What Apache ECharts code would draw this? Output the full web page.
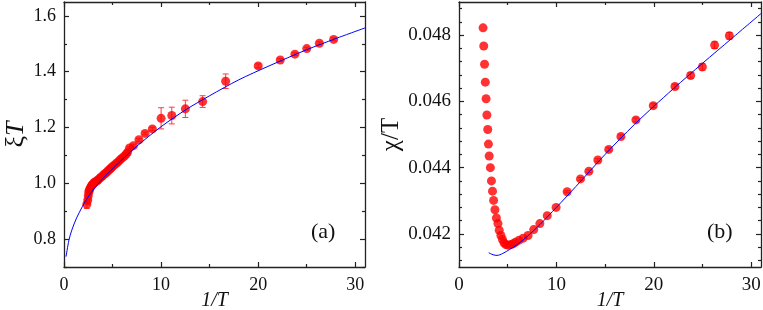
<!DOCTYPE html>
<html>
<head>
<meta charset="utf-8">
<script src="https://cdn.jsdelivr.net/npm/echarts@6/dist/echarts.min.js"></script>
<style>html,body{margin:0;padding:0;background:#fff}#c{width:763px;height:310px}</style>
</head>
<body>
<div id="c"></div>
<script>
// ---- Panel (a): xi*T vs 1/T ----
const aX   = [2.35,2.45,2.50,2.55,2.60,2.70,2.80,2.90,3.00,3.10,3.20,3.35,3.50,3.65,3.80,3.95,4.10,4.25,4.40,4.55,4.70,4.85,5.00,5.20,5.40,5.60,5.80,6.00,6.20,6.40,6.55,6.75,7.15,7.72,8.35,9.10,10.0,11.1,12.5,14.28,16.65,20.0,22.27,23.78,25.0,26.3,27.77];
const aY   = [0.925,0.940,0.955,0.968,0.975,0.983,0.990,0.994,0.998,1.002,1.005,1.008,1.012,1.017,1.022,1.026,1.031,1.035,1.040,1.045,1.050,1.055,1.060,1.066,1.072,1.078,1.085,1.091,1.097,1.104,1.112,1.127,1.135,1.156,1.179,1.195,1.233,1.243,1.267,1.293,1.366,1.421,1.442,1.463,1.483,1.502,1.516];
const aErr = [0.015,0.015,0.015,0.012,0.012,0.010,0.010,0.010,0.008,0.008,0.008,0.007,0.007,0.007,0.007,0.006,0.006,0.006,0.006,0.006,0.006,0.005,0.005,0.005,0.005,0.005,0.005,0.005,0.005,0.005,0.005,0.005,0.005,0.005,0.005,0.006,0.038,0.030,0.031,0.021,0.026,0.007,0.005,0.005,0.005,0.005,0.005];
const aFitX = [0.21,0.5,0.8,1.3,1.9,2.4,3.2,4.3,5.3,6.3,7.5,10,12.6,15,18,21,25,28,31];
const aFitY = [0.737,0.795,0.832,0.876,0.917,0.947,0.985,1.028,1.062,1.095,1.133,1.203,1.265,1.314,1.371,1.419,1.479,1.519,1.557];

// ---- Panel (b): chi/T vs 1/T ----
const bX   = [2.47,2.54,2.62,2.70,2.78,2.86,2.95,3.02,3.10,3.22,3.33,3.44,3.55,3.69,3.84,4.00,4.13,4.30,4.46,4.62,4.80,5.03,5.31,5.55,5.80,6.16,6.58,7.09,7.67,8.30,9.06,9.97,11.1,12.47,13.33,14.25,15.37,16.62,18.16,19.94,22.17,23.78,24.98,26.24,27.75];
const bY   = [0.04822,0.04767,0.04712,0.04658,0.04608,0.04559,0.04515,0.04471,0.04435,0.04400,0.04360,0.04329,0.04301,0.04273,0.04248,0.04231,0.04211,0.04195,0.04183,0.04173,0.04168,0.04166,0.04168,0.04170,0.04175,0.04181,0.04187,0.04195,0.04213,0.04231,0.04255,0.04280,0.04327,0.04366,0.04389,0.04423,0.04455,0.04494,0.04544,0.04587,0.04645,0.04678,0.04704,0.04770,0.04798];
const bErr = [0,0,0,0,0,0,0,0,0,0,0,0,0,0,0,0,0,0,0,0,0,0,0,0,0,0,0,0,0,0,0,0,0.00003,0.00004,0.00004,0.00004,0.00005,0.00005,0.00006,0.00006,0.00007,0.00008,0.0001,0.0001,0.0001];
const bFitX = [3.05,3.5,3.9,4.5,5.2,6,7,8.3,10,12,15,18,20,22,25,28,31];
const bFitY = [0.04143,0.04137,0.04135,0.04141,0.04153,0.04168,0.04192,0.04228,0.04280,0.04343,0.04440,0.04530,0.04585,0.04638,0.04715,0.04790,0.04865];

// ---- ticks ----
const xMajor = [0,10,20,30];
const xMinor = [5,15,25];
const aYMajor = [0.8,1.0,1.2,1.4,1.6];
const aYMinor = [0.7,0.9,1.1,1.3,1.5];
const bYMajor = [0.042,0.044,0.046,0.048];
const bYMinor = [0.0412,0.0416,0.0424,0.0428,0.0432,0.0436,0.0444,0.0448,0.0452,0.0456,0.0464,0.0468,0.0472,0.0476,0.0484,0.0488];

const SERIF = "Times New Roman, Liberation Serif, serif";
const AX = '#222';

function zip(xs, ys) { return xs.map((x,i)=>[x, ys[i]]); }
function zip3(xs, ys, es) { return xs.map((x,i)=>[x, ys[i], es[i]]); }

function xAxes(g, fs) {
  const base = {type:'value', gridIndex:g, min:0, max:31, splitLine:{show:false}};
  return [
    Object.assign({}, base, {position:'bottom',
      axisLine:{show:true, onZero:false, lineStyle:{color:AX, width:1.3}},
      axisTick:{show:true, inside:true, length:5, customValues:xMajor, lineStyle:{color:AX, width:1.2}},
      axisLabel:{show:true, customValues:xMajor, margin:9, color:'#111', fontFamily:SERIF, fontSize:fs},
      name:'1/T', nameLocation:'middle', nameGap:34, nameMoveOverlap:false,
      nameTextStyle:{fontFamily:SERIF, fontSize:20, fontStyle:'italic', color:'#111', verticalAlign:'middle'}}),
    Object.assign({}, base, {position:'bottom',
      axisLine:{show:false, onZero:false},
      axisTick:{show:true, inside:true, length:3, customValues:xMinor, lineStyle:{color:AX, width:1.2}},
      axisLabel:{show:false}}),
    Object.assign({}, base, {position:'top',
      axisLine:{show:true, onZero:false, lineStyle:{color:AX, width:1.3}},
      axisTick:{show:true, inside:true, length:5, customValues:xMajor, lineStyle:{color:AX, width:1.2}},
      axisLabel:{show:false}}),
    Object.assign({}, base, {position:'top',
      axisLine:{show:false, onZero:false},
      axisTick:{show:true, inside:true, length:3, customValues:xMinor, lineStyle:{color:AX, width:1.2}},
      axisLabel:{show:false}})
  ];
}

function yAxes(g, min, max, major, minor, digits, fs, name, nameGap, nameSize, rich) {
  const base = {type:'value', gridIndex:g, min:min, max:max, splitLine:{show:false}};
  return [
    Object.assign({}, base, {position:'left',
      axisLine:{show:true, onZero:false, lineStyle:{color:AX, width:1.3}},
      axisTick:{show:true, inside:true, length:5, customValues:major, lineStyle:{color:AX, width:1.2}},
      axisLabel:{show:true, customValues:major, margin:8, color:'#111', fontFamily:SERIF, fontSize:fs,
        formatter:(v)=>Number(v).toFixed(digits)},
      name:name, nameLocation:'middle', nameGap:nameGap,
      nameTextStyle:{fontFamily:SERIF, fontSize:nameSize, color:'#111', rich:rich}}),
    Object.assign({}, base, {position:'left',
      axisLine:{show:false, onZero:false},
      axisTick:{show:true, inside:true, length:3, customValues:minor, lineStyle:{color:AX, width:1.2}},
      axisLabel:{show:false}}),
    Object.assign({}, base, {position:'right',
      axisLine:{show:true, onZero:false, lineStyle:{color:AX, width:1.3}},
      axisTick:{show:true, inside:true, length:5, customValues:major, lineStyle:{color:AX, width:1.2}},
      axisLabel:{show:false}}),
    Object.assign({}, base, {position:'right',
      axisLine:{show:false, onZero:false},
      axisTick:{show:true, inside:true, length:3, customValues:minor, lineStyle:{color:AX, width:1.2}},
      axisLabel:{show:false}})
  ];
}

function errRender(params, api) {
  const x = api.value(0), y = api.value(1), e = api.value(2);
  if (!e) return null;
  const t = api.coord([x, y + e]), b = api.coord([x, y - e]);
  const st = {stroke:'#ff3b3b', lineWidth:1};
  return {type:'group', children:[
    {type:'line', shape:{x1:t[0], y1:t[1], x2:b[0], y2:b[1]}, style:st},
    {type:'line', shape:{x1:t[0]-3, y1:t[1], x2:t[0]+3, y2:t[1]}, style:st},
    {type:'line', shape:{x1:b[0]-3, y1:b[1], x2:b[0]+3, y2:b[1]}, style:st}
  ]};
}

const option = {
  animation:false,
  backgroundColor:'#fff',
  grid:[
    {left:64, right:398, top:2, bottom:43, outerBoundsMode:'none', containLabel:false},
    {left:459, right:2, top:2, bottom:43, outerBoundsMode:'none', containLabel:false}
  ],
  xAxis: xAxes(0, 18).concat(xAxes(1, 19)),
  yAxis: yAxes(0, 0.7, 1.65, aYMajor, aYMinor, 1, 18, 'ξ{i|T}', 33, 26,
            {i:{fontFamily:SERIF, fontSize:26, fontStyle:'italic', color:'#111'}})
         .concat(yAxes(1, 0.041, 0.049, bYMajor, bYMinor, 3, 19, 'χ/T', 53, 25, {})),
  graphic:[
    {type:'text', left:311, top:221, style:{text:'(a)', font:"22px Times New Roman, Liberation Serif, serif", fill:'#111'}},
    {type:'text', left:707, top:221, style:{text:'(b)', font:"22px Times New Roman, Liberation Serif, serif", fill:'#111'}}
  ],
  series:[
    {type:'custom', xAxisIndex:0, yAxisIndex:0, renderItem:errRender, data:zip3(aX,aY,aErr), encode:{x:0,y:1}, z:2},
    {type:'scatter', xAxisIndex:0, yAxisIndex:0, data:zip(aX,aY), symbolSize:9, itemStyle:{color:'#ff0000'}, z:3},
    {type:'line', xAxisIndex:0, yAxisIndex:0, data:zip(aFitX,aFitY), smooth:0.3, showSymbol:false,
      lineStyle:{color:'#0000ff', width:1}, z:4},
    {type:'custom', xAxisIndex:4, yAxisIndex:4, renderItem:errRender, data:zip3(bX,bY,bErr), encode:{x:0,y:1}, z:2},
    {type:'scatter', xAxisIndex:4, yAxisIndex:4, data:zip(bX,bY), symbolSize:9, itemStyle:{color:'#ff0000'}, z:3},
    {type:'line', xAxisIndex:4, yAxisIndex:4, data:zip(bFitX,bFitY), smooth:0.3, showSymbol:false,
      lineStyle:{color:'#0000ff', width:1}, z:4}
  ]
};
const chart = echarts.init(document.getElementById('c'), null, {renderer:'canvas'});
chart.setOption(option);
</script>
</body>
</html>
